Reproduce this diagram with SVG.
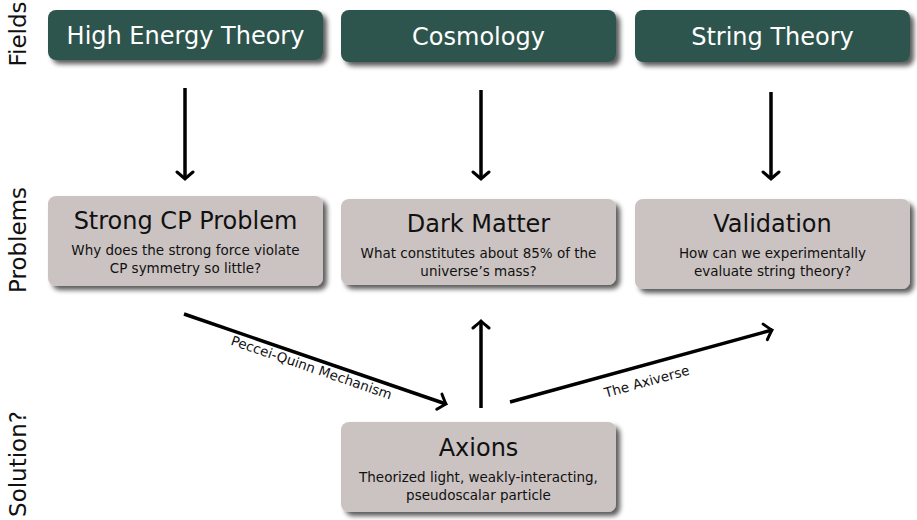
<svg xmlns="http://www.w3.org/2000/svg" width="917" height="520" viewBox="0 0 917 520">
<defs>
<filter id="sh" x="-10%" y="-20%" width="125%" height="150%">
<feGaussianBlur in="SourceAlpha" stdDeviation="2.5"/>
<feOffset dx="4" dy="4" result="b"/>
<feComponentTransfer><feFuncA type="linear" slope="0.65"/></feComponentTransfer>
<feMerge><feMergeNode/><feMergeNode in="SourceGraphic"/></feMerge>
</filter>
<marker id="ah" markerUnits="userSpaceOnUse" markerWidth="20" markerHeight="20" viewBox="-10 -10 20 20" refX="0" refY="0" orient="auto">
<path d="M-7,-8 Q-2,-2 0,0 Q-2,2 -7,8" fill="none" stroke="#000" stroke-width="3" stroke-linecap="round"/>
</marker>
</defs>
<style>
.field{fill:#2e544e;filter:url(#sh)}
.prob{fill:#cbc3c1;filter:url(#sh)}
text{font-family:"DejaVu Sans","Liberation Sans",sans-serif}
.ft{fill:#fff;font-size:24px;text-anchor:middle}
.pt{fill:#111;font-size:24px;text-anchor:middle}
.st{fill:#111;font-size:13.5px;text-anchor:middle}
.side{fill:#111;font-size:23px;text-anchor:middle}
.lbl{fill:#111;font-size:13.5px;text-anchor:middle}
.conn line{stroke:#000;stroke-width:3.5;marker-end:url(#ah)}
</style>
<rect width="917" height="520" fill="#fff"/>
<g id="side-labels">
<text class="side" transform="translate(26,34) rotate(-90)">Fields</text>
<text class="side" transform="translate(26,240) rotate(-90)">Problems</text>
<text class="side" transform="translate(26,464) rotate(-90)">Solution?</text>
</g>
<g id="high-energy-theory"><rect class="field" x="48" y="10" width="275" height="50" rx="8"/><text class="ft" x="185.5" y="44">High Energy Theory</text></g>
<g id="cosmology"><rect class="field" x="341" y="10" width="275" height="52" rx="8"/><text class="ft" x="478.5" y="45">Cosmology</text></g>
<g id="string-theory"><rect class="field" x="635" y="10" width="275" height="52" rx="8"/><text class="ft" x="772.5" y="45">String Theory</text></g>
<g id="strong-cp"><rect class="prob" x="48" y="196" width="275" height="90" rx="8"/><text class="pt" x="185.5" y="229">Strong CP Problem</text><text class="st" x="185.5" y="255">Why does the strong force violate</text><text class="st" x="185.5" y="273">CP symmetry so little?</text></g>
<g id="dark-matter"><rect class="prob" x="341" y="199" width="275" height="86" rx="8"/><text class="pt" x="478.5" y="232">Dark Matter</text><text class="st" x="478.5" y="258">What constitutes about 85% of the</text><text class="st" x="478.5" y="276">universe’s mass?</text></g>
<g id="validation"><rect class="prob" x="635" y="199" width="275" height="90" rx="8"/><text class="pt" x="772.5" y="232">Validation</text><text class="st" x="772.5" y="258">How can we experimentally</text><text class="st" x="772.5" y="276">evaluate string theory?</text></g>
<g id="axions"><rect class="prob" x="341" y="422" width="275" height="90" rx="8"/><text class="pt" x="478.5" y="456">Axions</text><text class="st" x="478.5" y="482">Theorized light, weakly-interacting,</text><text class="st" x="478.5" y="500">pseudoscalar particle</text></g>
<g id="connectors" class="conn">
<line x1="185" y1="88" x2="185" y2="179"/>
<line x1="481" y1="90" x2="481" y2="179"/>
<line x1="771" y1="92" x2="771" y2="179"/>
<line x1="481" y1="408" x2="481" y2="321"/>
<line x1="184" y1="314" x2="446" y2="404"/>
<line x1="510" y1="402" x2="772" y2="330"/>
<text class="lbl" transform="translate(310,372) rotate(19)">Peccei-Quinn Mechanism</text>
<text class="lbl" transform="translate(648,386) rotate(-15.4)">The Axiverse</text>
</g>
</svg>
